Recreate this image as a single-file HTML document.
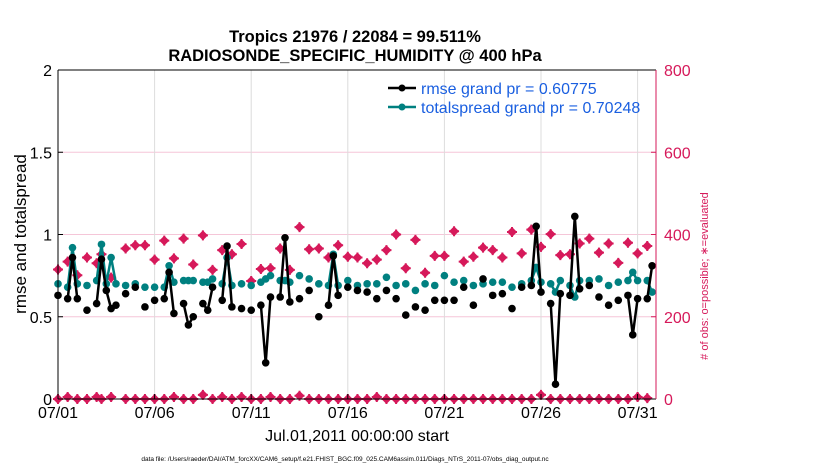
<!DOCTYPE html>
<html><head><meta charset="utf-8"><style>
html,body{margin:0;padding:0;background:#fff;}
svg{display:block;font-family:"Liberation Sans",Arial,sans-serif;}
</style></head><body>
<svg id="chart" width="830" height="470" viewBox="0 0 830 470">
<g id="grid"></g>
<g id="series"></g>
<g id="axes"></g>
<text x="355" y="42" text-anchor="middle" font-size="16.5" font-weight="bold">Tropics 21976 / 22084 = 99.511%</text>
<text x="355" y="61" text-anchor="middle" font-size="16.5" font-weight="bold">RADIOSONDE_SPECIFIC_HUMIDITY @ 400 hPa</text>
<text transform="translate(26,234) rotate(-90)" text-anchor="middle" font-size="17">rmse and totalspread</text>
<text transform="translate(708,276) rotate(-90)" text-anchor="middle" font-size="11" fill="#d6195a"># of obs: o=possible; ∗=evaluated</text>
<text x="357" y="441" text-anchor="middle" font-size="16">Jul.01,2011 00:00:00 start</text>
<text x="345" y="461" text-anchor="middle" font-size="6.5">data file: /Users/raeder/DAI/ATM_forcXX/CAM6_setup/f.e21.FHIST_BGC.f09_025.CAM6assim.011/Diags_NTrS_2011-07/obs_diag_output.nc</text>
<g>
<line x1="388" y1="88" x2="416" y2="88" stroke="#000" stroke-width="2.5"/><circle cx="402" cy="88" r="3.5" fill="#000"/>
<text x="421" y="94" font-size="16" fill="#1a5fe0">rmse grand pr = 0.60775</text>
<line x1="388" y1="107" x2="416" y2="107" stroke="#008080" stroke-width="2.5"/><circle cx="402" cy="107" r="3.5" fill="#008080"/>
<text x="421" y="113" font-size="16" fill="#1a5fe0">totalspread grand pr = 0.70248</text>
</g>
</svg>
<script>
const rmseIdx=[0,2,3,4,6,8,9,10,11,12,14,16,18,20,22,23,24,26,27,28,30,31,32,34,35,36,38,40,42,43,44,46,47,48,50,52,54,56,57,58,60,62,64,66,68,70,72,74,76,78,80,82,84,86,88,90,92,94,96,98,99,100,102,103,104,106,107,108,110,112,114,116,118,119,120,122,123];
const rmseVals=[.63,.61,.86,.61,.54,.58,.85,.66,.55,.57,.64,.68,.56,.60,.61,.77,.52,.58,.45,.50,.58,.54,.68,.60,.93,.56,.55,.54,.57,.22,.62,.62,.98,.59,.61,.66,.50,.57,.87,.63,.68,.66,.65,.61,.66,.61,.51,.56,.54,.60,.60,.60,.68,.57,.73,.63,.64,.55,.68,.69,1.05,.65,.58,.09,.64,.63,1.11,.67,.69,.62,.57,.60,.63,.39,.61,.61,.81];
const spreadVals=[.70,.68,.92,.70,.69,.72,.94,.70,.86,.70,.69,.70,.68,.68,.68,.81,.71,.72,.72,.72,.71,.71,.73,.70,.86,.69,.70,.69,.71,.73,.75,.72,.72,.71,.75,.73,.70,.69,.88,.69,.72,.69,.70,.70,.74,.69,.70,.66,.70,.69,.75,.71,.72,.69,.70,.71,.71,.68,.70,.72,.80,.71,.70,.65,.72,.69,.62,.72,.72,.73,.69,.71,.72,.77,.72,.72,.65];
const evalIdx=[0,2,4,6,8,9,11,14,16,18,20,22,24,26,28,30,32,34,36,38,40,42,44,46,48,50,52,54,56,58,60,62,64,66,68,70,72,74,76,78,80,82,84,86,88,90,92,94,96,98,100,102,104,106,108,110,112,114,116,118,120,122];
const evalVals=[315,334,301,344,330,352,295,366,374,374,339,385,342,390,327,398,314,362,352,377,287,316,318,366,314,418,364,366,344,374,346,344,330,339,362,400,318,387,307,348,348,408,334,346,368,362,344,406,354,412,370,401,350,352,378,390,356,378,331,380,354,372];
const lowVals=[0,5,0,0,5,0,5,0,0,0,0,0,5,0,0,10,0,5,0,5,0,0,5,0,0,8,0,0,0,0,0,0,0,5,0,0,0,0,0,0,0,0,0,0,0,0,0,0,0,0,10,0,0,0,0,0,0,0,0,0,5,2];
const leftTicks=[0,0.5,1,1.5,2];
const leftTickLabels=["0","0.5","1","1.5","2"];
const rightTicks=[0,200,400,600,800];
const dateTicks=["07/01","07/06","07/11","07/16","07/21","07/26","07/31"];
const dateTickDays=[1,6,11,16,21,26,31];

const L=58,R=656,T=70,B=399;
const xS=i=>L+i*4.83;
const yL=v=>B-(v/2)*(B-T);
const yR=v=>B-(v/800)*(B-T);
const NS="http://www.w3.org/2000/svg";
function mk(tag,attrs,parent){const e=document.createElementNS(NS,tag);for(const k in attrs)e.setAttribute(k,attrs[k]);parent.appendChild(e);return e;}
const grid=document.getElementById('grid'),ser=document.getElementById('series'),ax=document.getElementById('axes');

leftTicks.forEach((v,k)=>{
  if(k>0&&k<leftTicks.length-1){const g=mk('line',{x1:L,x2:R,y1:yL(v),y2:yL(v),stroke:'#f5c6d8','stroke-width':1},grid);
  
  }
  mk('line',{x1:L,x2:L+5,y1:yL(v),y2:yL(v),stroke:'#000'},ax);
  const t=mk('text',{x:L-6,y:yL(v)+6,'text-anchor':'end','font-size':16},ax);t.textContent=leftTickLabels[k];
  
  
});
rightTicks.forEach(v=>{
  mk('line',{x1:R-5,x2:R,y1:yR(v),y2:yR(v),stroke:'#d6195a'},ax);
  const t=mk('text',{x:R+8,y:yR(v)+6,'font-size':16,fill:'#d6195a'},ax);t.textContent=String(v);
  
  
});
dateTicks.forEach((lab,k)=>{
  const x=xS((dateTickDays[k]-1)*4);
  if(k>0){const g=mk('line',{x1:x,x2:x,y1:T,y2:B,stroke:'#dcdcdc'},grid);
  
  }
  mk('line',{x1:x,x2:x,y1:B,y2:B-5,stroke:'#000'},ax);
  const t=mk('text',{x:x,y:B+19,'text-anchor':'middle','font-size':16},ax);t.textContent=lab;
  
  
});
mk('line',{x1:L,x2:L,y1:T,y2:B,stroke:'#000'},ax);
mk('line',{x1:L,x2:R,y1:B,y2:B,stroke:'#000'},ax);
mk('line',{x1:L,x2:R,y1:T,y2:T,stroke:'#000'},ax);
mk('line',{x1:R,x2:R,y1:T,y2:B,stroke:'#d6195a'},ax);

function star(x,y){
  const g=mk('g',{},ser);
  
  
  mk('path',{d:`M${x} ${y-5}L${x+5} ${y}L${x} ${y+5}L${x-5} ${y}Z`,fill:'#d6195a'},g);
  mk('path',{d:`M${x-5} ${y}H${x+5}M${x} ${y-5}V${y+5}`,stroke:'#d6195a','stroke-width':2},g);
}
evalIdx.forEach((i,k)=>star(xS(i),yR(evalVals[k])));
evalIdx.forEach((i,k)=>star(xS(i),yR(lowVals[k])));

function series(vals,color,name){
  let d='';
  rmseIdx.forEach((i,k)=>{
    const cont=k>0&&rmseIdx[k-1]===i-1;
    d+=(cont?'L':'M')+xS(i).toFixed(1)+' '+yL(vals[k]).toFixed(1);
  });
  const p=mk('path',{d:d,fill:'none',stroke:color,'stroke-width':2.5,'stroke-linejoin':'round'},ser);
  
  
  rmseIdx.forEach((i,k)=>{
    const c=mk('circle',{cx:xS(i),cy:yL(vals[k]),r:3.8,fill:color},ser);
    
    
  });
}
series(spreadVals,'#008080','totalspread');
series(rmseVals,'#000000','rmse');
</script>
</body></html>
